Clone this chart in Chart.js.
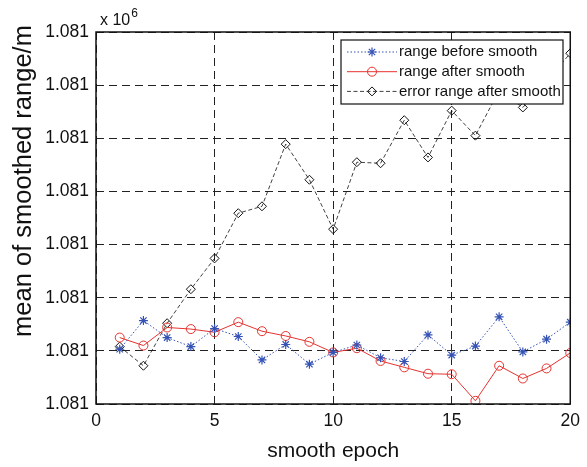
<!DOCTYPE html>
<html>
<head>
<meta charset="utf-8">
<script src="https://cdn.jsdelivr.net/npm/chart.js@4"></script>
<style>
html,body{margin:0;padding:0;background:#fff;}
#wrap{width:587px;height:467px;}
</style>
</head>
<body>
<div id="wrap"><canvas id="c" width="587" height="467"></canvas></div>
<script>
// ---- data (y in grid units; every y tick reads 1.081 ×10^6) ----
const epochs = [1,2,3,4,5,6,7,8,9,10,11,12,13,14,15,16,17,18,19,20];
const rangeBefore = [1.03,1.57,1.25,1.08,1.42,1.27,0.83,1.12,0.75,0.97,1.11,0.87,0.80,1.30,0.92,1.09,1.64,0.98,1.22,1.54];
const rangeAfter  = [1.25,1.10,1.44,1.41,1.35,1.54,1.37,1.28,1.17,0.97,1.05,0.81,0.69,0.57,0.56,0.06,0.72,0.48,0.67,0.96];
const errorRange  = [1.08,0.72,1.52,2.16,2.74,3.59,3.72,4.89,4.22,3.29,4.55,4.53,5.34,4.64,5.52,5.05,5.90,5.58,6.07,6.60];
const yTickLabels = ['1.081','1.081','1.081','1.081','1.081','1.081','1.081','1.081'];
const xTickValues = [0,5,10,15,20];
const seriesNames = ['range before smooth','range after smooth','error range after smooth'];
const xTitle = 'smooth epoch';
const yTitle = 'mean of smoothed range/m';
const exponentBase = 'x 10';
const exponentPower = '6';

const FONT = "'Liberation Sans', Arial, Helvetica, sans-serif";
const pts = arr => epochs.map((e,i)=>({x:e,y:arr[i]}));

const overlay = {
  id:'overlay',
  afterDraw(chart){
    const ctx = chart.ctx, a = chart.chartArea;
    ctx.save();
    // axes box
    ctx.setLineDash([]);
    ctx.strokeStyle = '#111';
    ctx.lineWidth = 1.5;
    ctx.strokeRect(a.left, a.top, a.right - a.left, a.bottom - a.top);
    // exponent label
    ctx.fillStyle = '#111';
    ctx.textBaseline = 'alphabetic';
    ctx.textAlign = 'left';
    ctx.font = '16px ' + FONT;
    ctx.fillText(exponentBase, 100, 25);
    const w = ctx.measureText(exponentBase).width;
    ctx.font = '12px ' + FONT;
    ctx.fillText(exponentPower, 100 + w + 1, 17);
    // y title
    ctx.save();
    ctx.translate(24, 181);
    ctx.rotate(-Math.PI/2);
    ctx.textAlign = 'center';
    ctx.textBaseline = 'middle';
    ctx.font = '25.5px ' + FONT;
    ctx.fillText(yTitle, 0, 0);
    ctx.restore();
    // legend
    const lx = 341, ly = 40, lw = 222, lh = 64;
    ctx.fillStyle = '#fff';
    ctx.fillRect(lx, ly, lw, lh);
    ctx.strokeStyle = '#111';
    ctx.lineWidth = 1.2;
    ctx.strokeRect(lx, ly, lw, lh);
    chart.data.datasets.forEach((ds, i) => {
      const y = 52 + i * 19.7;
      ctx.save();
      ctx.strokeStyle = ds.borderColor;
      ctx.lineWidth = ds.borderWidth;
      ctx.setLineDash(ds.borderDash || []);
      ctx.beginPath();
      ctx.moveTo(347, y); ctx.lineTo(397, y);
      ctx.stroke();
      ctx.setLineDash([]);
      ctx.strokeStyle = ds.pointBorderColor;
      ctx.fillStyle = 'rgba(0,0,0,0)';
      ctx.lineWidth = ds.pointBorderWidth;
      Chart.helpers.drawPoint(ctx, {pointStyle: ds.pointStyle, radius: ds.pointRadius, rotation: 0, borderWidth: ds.pointBorderWidth}, 372, y);
      ctx.restore();
      ctx.fillStyle = '#111';
      ctx.font = '15px ' + FONT;
      ctx.textAlign = 'left';
      ctx.textBaseline = 'middle';
      ctx.fillText(ds.label, 399, y);
    });
    ctx.restore();
  }
};

new Chart(document.getElementById('c'), {
  type: 'line',
  data: {
    datasets: [
      {label: seriesNames[0], data: pts(rangeBefore), borderColor:'#3552b5', borderWidth:1, borderDash:[1.5,2],
       pointStyle:'star', pointRadius:4.5, pointBorderColor:'#3552b5', pointBackgroundColor:'rgba(0,0,0,0)', pointBorderWidth:1.2, tension:0},
      {label: seriesNames[1], data: pts(rangeAfter), borderColor:'#e5332f', borderWidth:1, borderDash:[],
       pointStyle:'circle', pointRadius:4.5, pointBorderColor:'#e5332f', pointBackgroundColor:'rgba(0,0,0,0)', pointBorderWidth:1, tension:0},
      {label: seriesNames[2], data: pts(errorRange), borderColor:'#111', borderWidth:0.8, borderDash:[4,2.5],
       pointStyle:'rectRot', pointRadius:4.5, pointBorderColor:'#111', pointBackgroundColor:'rgba(0,0,0,0)', pointBorderWidth:1, tension:0}
    ]
  },
  options: {
    responsive:false,
    animation:false,
    layout:{padding:{left:0,right:16,top:32,bottom:0}},
    plugins:{legend:{display:false}, tooltip:{enabled:false}},
    scales:{
      x:{
        type:'linear', min:0, max:20,
        afterBuildTicks: s => { s.ticks = xTickValues.map(v=>({value:v})); },
        afterFit: s => { s.height = 63; },
        grid:{color:'#222', lineWidth:1, drawTicks:false},
        border:{display:false, dash:[8,5]},
        ticks:{padding:7, color:'#111', font:{family:FONT, size:17.5}, maxRotation:0},
        title:{display:true, text:xTitle, color:'#111', font:{family:FONT, size:21}, padding:{top:0,bottom:3}}
      },
      y:{
        type:'linear', min:0, max:7,
        afterBuildTicks: s => { s.ticks = yTickLabels.map((t,i)=>({value:i})); },
        afterFit: s => { s.width = 96; },
        grid:{color:'#222', lineWidth:1, drawTicks:false},
        border:{display:false, dash:[8,5]},
        ticks:{padding:7, color:'#111', font:{family:FONT, size:17.5}, callback:(v,i)=>yTickLabels[i]}
      }
    }
  },
  plugins:[overlay]
});
</script>
</body>
</html>
